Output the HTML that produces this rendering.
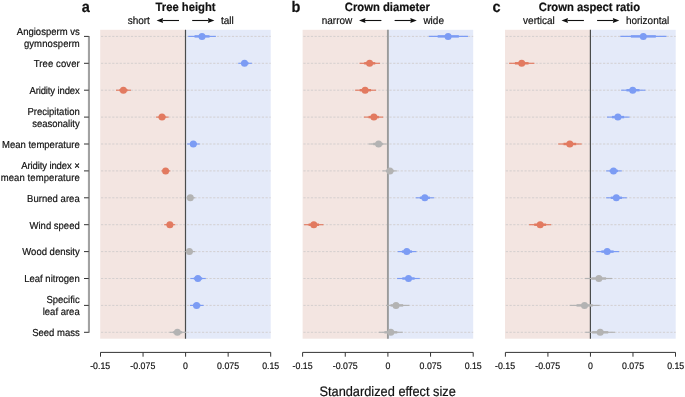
<!DOCTYPE html><html><head><meta charset="utf-8"><style>html,body{margin:0;padding:0;background:#fff;}svg{display:block;will-change:transform;}text{font-family:"Liberation Sans",sans-serif;text-rendering:geometricPrecision;}</style></head><body>
<svg width="685" height="397" viewBox="0 0 685 397">
<rect x="0" y="0" width="685" height="397" fill="#fff"/>
<rect x="100.2" y="29.8" width="85.30" height="308.90" fill="#f3e5e1"/>
<rect x="185.5" y="29.8" width="85.20" height="308.90" fill="#e4eaf9"/>
<line x1="101.0" y1="36.40" x2="270.7" y2="36.40" stroke="#cfcbcb" stroke-width="0.85" stroke-dasharray="2.2 1.54"/>
<line x1="101.0" y1="63.30" x2="270.7" y2="63.30" stroke="#cfcbcb" stroke-width="0.85" stroke-dasharray="2.2 1.54"/>
<line x1="101.0" y1="90.20" x2="270.7" y2="90.20" stroke="#cfcbcb" stroke-width="0.85" stroke-dasharray="2.2 1.54"/>
<line x1="101.0" y1="117.10" x2="270.7" y2="117.10" stroke="#cfcbcb" stroke-width="0.85" stroke-dasharray="2.2 1.54"/>
<line x1="101.0" y1="144.00" x2="270.7" y2="144.00" stroke="#cfcbcb" stroke-width="0.85" stroke-dasharray="2.2 1.54"/>
<line x1="101.0" y1="170.90" x2="270.7" y2="170.90" stroke="#cfcbcb" stroke-width="0.85" stroke-dasharray="2.2 1.54"/>
<line x1="101.0" y1="197.80" x2="270.7" y2="197.80" stroke="#cfcbcb" stroke-width="0.85" stroke-dasharray="2.2 1.54"/>
<line x1="101.0" y1="224.70" x2="270.7" y2="224.70" stroke="#cfcbcb" stroke-width="0.85" stroke-dasharray="2.2 1.54"/>
<line x1="101.0" y1="251.60" x2="270.7" y2="251.60" stroke="#cfcbcb" stroke-width="0.85" stroke-dasharray="2.2 1.54"/>
<line x1="101.0" y1="278.50" x2="270.7" y2="278.50" stroke="#cfcbcb" stroke-width="0.85" stroke-dasharray="2.2 1.54"/>
<line x1="101.0" y1="305.40" x2="270.7" y2="305.40" stroke="#cfcbcb" stroke-width="0.85" stroke-dasharray="2.2 1.54"/>
<line x1="101.0" y1="332.30" x2="270.7" y2="332.30" stroke="#cfcbcb" stroke-width="0.85" stroke-dasharray="2.2 1.54"/>
<line x1="185.5" y1="29.8" x2="185.5" y2="338.7" stroke="#4a4c4c" stroke-width="1.2"/>
<line x1="188.2" y1="36.40" x2="215.9" y2="36.40" stroke="#7c9cf4" stroke-width="1.15"/>
<line x1="194.55" y1="36.40" x2="209.51" y2="36.40" stroke="#7c9cf4" stroke-width="2.45"/>
<circle cx="202.0" cy="36.40" r="3.5" fill="#7c9cf4"/>
<line x1="238.2" y1="63.30" x2="251.9" y2="63.30" stroke="#7c9cf4" stroke-width="1.15"/>
<line x1="241.10" y1="63.30" x2="248.50" y2="63.30" stroke="#7c9cf4" stroke-width="2.45"/>
<circle cx="244.5" cy="63.30" r="3.5" fill="#7c9cf4"/>
<line x1="116.0" y1="90.20" x2="131.0" y2="90.20" stroke="#e27a60" stroke-width="1.15"/>
<line x1="119.40" y1="90.20" x2="127.50" y2="90.20" stroke="#e27a60" stroke-width="2.45"/>
<circle cx="123.4" cy="90.20" r="3.5" fill="#e27a60"/>
<line x1="156.0" y1="117.10" x2="168.6" y2="117.10" stroke="#e27a60" stroke-width="1.15"/>
<line x1="158.76" y1="117.10" x2="165.56" y2="117.10" stroke="#e27a60" stroke-width="2.45"/>
<circle cx="162.0" cy="117.10" r="3.5" fill="#e27a60"/>
<line x1="187.2" y1="144.00" x2="199.7" y2="144.00" stroke="#7c9cf4" stroke-width="1.15"/>
<line x1="190.01" y1="144.00" x2="196.76" y2="144.00" stroke="#7c9cf4" stroke-width="2.45"/>
<circle cx="193.3" cy="144.00" r="3.5" fill="#7c9cf4"/>
<line x1="161.5" y1="170.90" x2="170.3" y2="170.90" stroke="#e27a60" stroke-width="1.15"/>
<line x1="163.39" y1="170.90" x2="168.14" y2="170.90" stroke="#e27a60" stroke-width="2.45"/>
<circle cx="165.6" cy="170.90" r="3.5" fill="#e27a60"/>
<line x1="186.4" y1="197.80" x2="195.2" y2="197.80" stroke="#b3b3b3" stroke-width="1.15"/>
<line x1="188.19" y1="197.80" x2="192.95" y2="197.80" stroke="#b3b3b3" stroke-width="2.45"/>
<circle cx="190.3" cy="197.80" r="3.5" fill="#b3b3b3"/>
<line x1="164.2" y1="224.70" x2="175.3" y2="224.70" stroke="#e27a60" stroke-width="1.15"/>
<line x1="166.82" y1="224.70" x2="172.82" y2="224.70" stroke="#e27a60" stroke-width="2.45"/>
<circle cx="169.9" cy="224.70" r="3.5" fill="#e27a60"/>
<line x1="185.3" y1="251.60" x2="195.0" y2="251.60" stroke="#b3b3b3" stroke-width="1.15"/>
<line x1="187.19" y1="251.60" x2="192.42" y2="251.60" stroke="#b3b3b3" stroke-width="2.45"/>
<circle cx="189.4" cy="251.60" r="3.5" fill="#b3b3b3"/>
<line x1="190.3" y1="278.50" x2="205.8" y2="278.50" stroke="#7c9cf4" stroke-width="1.15"/>
<line x1="193.80" y1="278.50" x2="202.17" y2="278.50" stroke="#7c9cf4" stroke-width="2.45"/>
<circle cx="197.9" cy="278.50" r="3.5" fill="#7c9cf4"/>
<line x1="190.0" y1="305.40" x2="203.6" y2="305.40" stroke="#7c9cf4" stroke-width="1.15"/>
<line x1="193.04" y1="305.40" x2="200.38" y2="305.40" stroke="#7c9cf4" stroke-width="2.45"/>
<circle cx="196.6" cy="305.40" r="3.5" fill="#7c9cf4"/>
<line x1="169.6" y1="332.30" x2="186.3" y2="332.30" stroke="#b3b3b3" stroke-width="1.15"/>
<line x1="173.19" y1="332.30" x2="182.21" y2="332.30" stroke="#b3b3b3" stroke-width="2.45"/>
<circle cx="177.4" cy="332.30" r="3.5" fill="#b3b3b3"/>
<path d="M100.5 356.7V352.4H270.7V356.7" fill="none" stroke="#333" stroke-width="1"/>
<line x1="143.05" y1="352.4" x2="143.05" y2="356.7" stroke="#333" stroke-width="1"/>
<line x1="185.60" y1="352.4" x2="185.60" y2="356.7" stroke="#333" stroke-width="1"/>
<line x1="228.15" y1="352.4" x2="228.15" y2="356.7" stroke="#333" stroke-width="1"/>
<text transform="translate(100.20,368.80) scale(1,1.07)" font-size="8.8" text-anchor="middle" fill="#111" stroke="#111" stroke-width="0.18">-0.15</text>
<text transform="translate(142.82,368.80) scale(1,1.07)" font-size="8.8" text-anchor="middle" fill="#111" stroke="#111" stroke-width="0.18">-0.075</text>
<text transform="translate(185.45,368.80) scale(1,1.07)" font-size="8.8" text-anchor="middle" fill="#111" stroke="#111" stroke-width="0.18">0</text>
<text transform="translate(228.07,368.80) scale(1,1.07)" font-size="8.8" text-anchor="middle" fill="#111" stroke="#111" stroke-width="0.18">0.075</text>
<text transform="translate(270.70,368.80) scale(1,1.07)" font-size="8.8" text-anchor="middle" fill="#111" stroke="#111" stroke-width="0.18">0.15</text>
<text transform="translate(81.70,11.60) scale(1,1.07)" font-size="14.5" font-weight="bold" fill="#111" stroke="#111" stroke-width="0.18">a</text>
<text transform="translate(185.50,10.90) scale(1,1.07)" font-size="11.25" text-anchor="middle" font-weight="bold" fill="#111" stroke="#111" stroke-width="0.18">Tree height</text>
<text transform="translate(149.90,23.80) scale(1,1.07)" font-size="10" text-anchor="end" fill="#111" stroke="#111" stroke-width="0.18">short</text>
<text transform="translate(221.00,23.80) scale(1,1.07)" font-size="10" fill="#111" stroke="#111" stroke-width="0.18">tall</text>
<line x1="179.00" y1="20.5" x2="162.50" y2="20.5" stroke="#111" stroke-width="1.1"/>
<path d="M156.60 20.5L163.10 18.1L162.50 20.5L163.10 22.9Z" fill="#111"/>
<line x1="192.20" y1="20.5" x2="208.50" y2="20.5" stroke="#111" stroke-width="1.1"/>
<path d="M214.40 20.5L207.90 18.1L208.50 20.5L207.90 22.9Z" fill="#111"/>
<rect x="302.6" y="29.8" width="85.30" height="308.90" fill="#f3e5e1"/>
<rect x="387.9" y="29.8" width="85.30" height="308.90" fill="#e4eaf9"/>
<line x1="303.40000000000003" y1="36.40" x2="473.2" y2="36.40" stroke="#cfcbcb" stroke-width="0.85" stroke-dasharray="2.2 1.54"/>
<line x1="303.40000000000003" y1="63.30" x2="473.2" y2="63.30" stroke="#cfcbcb" stroke-width="0.85" stroke-dasharray="2.2 1.54"/>
<line x1="303.40000000000003" y1="90.20" x2="473.2" y2="90.20" stroke="#cfcbcb" stroke-width="0.85" stroke-dasharray="2.2 1.54"/>
<line x1="303.40000000000003" y1="117.10" x2="473.2" y2="117.10" stroke="#cfcbcb" stroke-width="0.85" stroke-dasharray="2.2 1.54"/>
<line x1="303.40000000000003" y1="144.00" x2="473.2" y2="144.00" stroke="#cfcbcb" stroke-width="0.85" stroke-dasharray="2.2 1.54"/>
<line x1="303.40000000000003" y1="170.90" x2="473.2" y2="170.90" stroke="#cfcbcb" stroke-width="0.85" stroke-dasharray="2.2 1.54"/>
<line x1="303.40000000000003" y1="197.80" x2="473.2" y2="197.80" stroke="#cfcbcb" stroke-width="0.85" stroke-dasharray="2.2 1.54"/>
<line x1="303.40000000000003" y1="224.70" x2="473.2" y2="224.70" stroke="#cfcbcb" stroke-width="0.85" stroke-dasharray="2.2 1.54"/>
<line x1="303.40000000000003" y1="251.60" x2="473.2" y2="251.60" stroke="#cfcbcb" stroke-width="0.85" stroke-dasharray="2.2 1.54"/>
<line x1="303.40000000000003" y1="278.50" x2="473.2" y2="278.50" stroke="#cfcbcb" stroke-width="0.85" stroke-dasharray="2.2 1.54"/>
<line x1="303.40000000000003" y1="305.40" x2="473.2" y2="305.40" stroke="#cfcbcb" stroke-width="0.85" stroke-dasharray="2.2 1.54"/>
<line x1="303.40000000000003" y1="332.30" x2="473.2" y2="332.30" stroke="#cfcbcb" stroke-width="0.85" stroke-dasharray="2.2 1.54"/>
<line x1="387.9" y1="29.8" x2="387.9" y2="338.7" stroke="#9a9a9a" stroke-width="1.9"/>
<line x1="428.8" y1="36.40" x2="468.0" y2="36.40" stroke="#7c9cf4" stroke-width="1.15"/>
<line x1="437.68" y1="36.40" x2="458.85" y2="36.40" stroke="#7c9cf4" stroke-width="2.45"/>
<circle cx="448.1" cy="36.40" r="3.5" fill="#7c9cf4"/>
<line x1="359.6" y1="63.30" x2="380.0" y2="63.30" stroke="#e27a60" stroke-width="1.15"/>
<line x1="364.20" y1="63.30" x2="375.22" y2="63.30" stroke="#e27a60" stroke-width="2.45"/>
<circle cx="369.6" cy="63.30" r="3.5" fill="#e27a60"/>
<line x1="355.1" y1="90.20" x2="376.0" y2="90.20" stroke="#e27a60" stroke-width="1.15"/>
<line x1="359.70" y1="90.20" x2="370.99" y2="90.20" stroke="#e27a60" stroke-width="2.45"/>
<circle cx="365.1" cy="90.20" r="3.5" fill="#e27a60"/>
<line x1="364.0" y1="117.10" x2="383.1" y2="117.10" stroke="#e27a60" stroke-width="1.15"/>
<line x1="368.55" y1="117.10" x2="378.87" y2="117.10" stroke="#e27a60" stroke-width="2.45"/>
<circle cx="373.9" cy="117.10" r="3.5" fill="#e27a60"/>
<line x1="368.6" y1="144.00" x2="386.6" y2="144.00" stroke="#b3b3b3" stroke-width="1.15"/>
<line x1="373.20" y1="144.00" x2="382.92" y2="144.00" stroke="#b3b3b3" stroke-width="2.45"/>
<circle cx="378.6" cy="144.00" r="3.5" fill="#b3b3b3"/>
<line x1="382.5" y1="170.90" x2="396.9" y2="170.90" stroke="#b3b3b3" stroke-width="1.15"/>
<line x1="385.90" y1="170.90" x2="393.68" y2="170.90" stroke="#b3b3b3" stroke-width="2.45"/>
<circle cx="389.9" cy="170.90" r="3.5" fill="#b3b3b3"/>
<line x1="415.7" y1="197.80" x2="434.2" y2="197.80" stroke="#7c9cf4" stroke-width="1.15"/>
<line x1="419.89" y1="197.80" x2="429.88" y2="197.80" stroke="#7c9cf4" stroke-width="2.45"/>
<circle cx="424.8" cy="197.80" r="3.5" fill="#7c9cf4"/>
<line x1="304.1" y1="224.70" x2="323.5" y2="224.70" stroke="#e27a60" stroke-width="1.15"/>
<line x1="308.56" y1="224.70" x2="319.04" y2="224.70" stroke="#e27a60" stroke-width="2.45"/>
<circle cx="313.8" cy="224.70" r="3.5" fill="#e27a60"/>
<line x1="397.7" y1="251.60" x2="416.5" y2="251.60" stroke="#7c9cf4" stroke-width="1.15"/>
<line x1="401.89" y1="251.60" x2="412.04" y2="251.60" stroke="#7c9cf4" stroke-width="2.45"/>
<circle cx="406.8" cy="251.60" r="3.5" fill="#7c9cf4"/>
<line x1="397.1" y1="278.50" x2="419.8" y2="278.50" stroke="#7c9cf4" stroke-width="1.15"/>
<line x1="402.34" y1="278.50" x2="414.60" y2="278.50" stroke="#7c9cf4" stroke-width="2.45"/>
<circle cx="408.5" cy="278.50" r="3.5" fill="#7c9cf4"/>
<line x1="386.0" y1="305.40" x2="409.3" y2="305.40" stroke="#b3b3b3" stroke-width="1.15"/>
<line x1="390.60" y1="305.40" x2="403.18" y2="305.40" stroke="#b3b3b3" stroke-width="2.45"/>
<circle cx="396.0" cy="305.40" r="3.5" fill="#b3b3b3"/>
<line x1="378.9" y1="332.30" x2="402.7" y2="332.30" stroke="#b3b3b3" stroke-width="1.15"/>
<line x1="384.37" y1="332.30" x2="397.23" y2="332.30" stroke="#b3b3b3" stroke-width="2.45"/>
<circle cx="390.8" cy="332.30" r="3.5" fill="#b3b3b3"/>
<path d="M302.6 356.7V352.4H473.2V356.7" fill="none" stroke="#333" stroke-width="1"/>
<line x1="345.25" y1="352.4" x2="345.25" y2="356.7" stroke="#333" stroke-width="1"/>
<line x1="387.90" y1="352.4" x2="387.90" y2="356.7" stroke="#333" stroke-width="1"/>
<line x1="430.55" y1="352.4" x2="430.55" y2="356.7" stroke="#333" stroke-width="1"/>
<text transform="translate(302.60,368.80) scale(1,1.07)" font-size="8.8" text-anchor="middle" fill="#111" stroke="#111" stroke-width="0.18">-0.15</text>
<text transform="translate(345.25,368.80) scale(1,1.07)" font-size="8.8" text-anchor="middle" fill="#111" stroke="#111" stroke-width="0.18">-0.075</text>
<text transform="translate(387.90,368.80) scale(1,1.07)" font-size="8.8" text-anchor="middle" fill="#111" stroke="#111" stroke-width="0.18">0</text>
<text transform="translate(430.55,368.80) scale(1,1.07)" font-size="8.8" text-anchor="middle" fill="#111" stroke="#111" stroke-width="0.18">0.075</text>
<text transform="translate(473.20,368.80) scale(1,1.07)" font-size="8.8" text-anchor="middle" fill="#111" stroke="#111" stroke-width="0.18">0.15</text>
<text transform="translate(291.40,11.60) scale(1,1.07)" font-size="14.5" font-weight="bold" fill="#111" stroke="#111" stroke-width="0.18">b</text>
<text transform="translate(387.30,10.90) scale(1,1.07)" font-size="11.25" text-anchor="middle" font-weight="bold" fill="#111" stroke="#111" stroke-width="0.18">Crown diameter</text>
<text transform="translate(352.30,23.80) scale(1,1.07)" font-size="10" text-anchor="end" fill="#111" stroke="#111" stroke-width="0.18">narrow</text>
<text transform="translate(423.40,23.80) scale(1,1.07)" font-size="10" fill="#111" stroke="#111" stroke-width="0.18">wide</text>
<line x1="381.40" y1="20.5" x2="364.90" y2="20.5" stroke="#111" stroke-width="1.1"/>
<path d="M359.00 20.5L365.50 18.1L364.90 20.5L365.50 22.9Z" fill="#111"/>
<line x1="394.60" y1="20.5" x2="410.90" y2="20.5" stroke="#111" stroke-width="1.1"/>
<path d="M416.80 20.5L410.30 18.1L410.90 20.5L410.30 22.9Z" fill="#111"/>
<rect x="505.0" y="29.8" width="85.40" height="308.90" fill="#f3e5e1"/>
<rect x="590.4" y="29.8" width="85.30" height="308.90" fill="#e4eaf9"/>
<line x1="505.8" y1="36.40" x2="675.7" y2="36.40" stroke="#cfcbcb" stroke-width="0.85" stroke-dasharray="2.2 1.54"/>
<line x1="505.8" y1="63.30" x2="675.7" y2="63.30" stroke="#cfcbcb" stroke-width="0.85" stroke-dasharray="2.2 1.54"/>
<line x1="505.8" y1="90.20" x2="675.7" y2="90.20" stroke="#cfcbcb" stroke-width="0.85" stroke-dasharray="2.2 1.54"/>
<line x1="505.8" y1="117.10" x2="675.7" y2="117.10" stroke="#cfcbcb" stroke-width="0.85" stroke-dasharray="2.2 1.54"/>
<line x1="505.8" y1="144.00" x2="675.7" y2="144.00" stroke="#cfcbcb" stroke-width="0.85" stroke-dasharray="2.2 1.54"/>
<line x1="505.8" y1="170.90" x2="675.7" y2="170.90" stroke="#cfcbcb" stroke-width="0.85" stroke-dasharray="2.2 1.54"/>
<line x1="505.8" y1="197.80" x2="675.7" y2="197.80" stroke="#cfcbcb" stroke-width="0.85" stroke-dasharray="2.2 1.54"/>
<line x1="505.8" y1="224.70" x2="675.7" y2="224.70" stroke="#cfcbcb" stroke-width="0.85" stroke-dasharray="2.2 1.54"/>
<line x1="505.8" y1="251.60" x2="675.7" y2="251.60" stroke="#cfcbcb" stroke-width="0.85" stroke-dasharray="2.2 1.54"/>
<line x1="505.8" y1="278.50" x2="675.7" y2="278.50" stroke="#cfcbcb" stroke-width="0.85" stroke-dasharray="2.2 1.54"/>
<line x1="505.8" y1="305.40" x2="675.7" y2="305.40" stroke="#cfcbcb" stroke-width="0.85" stroke-dasharray="2.2 1.54"/>
<line x1="505.8" y1="332.30" x2="675.7" y2="332.30" stroke="#cfcbcb" stroke-width="0.85" stroke-dasharray="2.2 1.54"/>
<line x1="590.4" y1="29.8" x2="590.4" y2="338.7" stroke="#4a4c4c" stroke-width="1.2"/>
<line x1="620.3" y1="36.40" x2="666.5" y2="36.40" stroke="#7c9cf4" stroke-width="1.15"/>
<line x1="630.88" y1="36.40" x2="655.83" y2="36.40" stroke="#7c9cf4" stroke-width="2.45"/>
<circle cx="643.3" cy="36.40" r="3.5" fill="#7c9cf4"/>
<line x1="509.1" y1="63.30" x2="534.4" y2="63.30" stroke="#e27a60" stroke-width="1.15"/>
<line x1="514.90" y1="63.30" x2="528.56" y2="63.30" stroke="#e27a60" stroke-width="2.45"/>
<circle cx="521.7" cy="63.30" r="3.5" fill="#e27a60"/>
<line x1="621.1" y1="90.20" x2="645.4" y2="90.20" stroke="#7c9cf4" stroke-width="1.15"/>
<line x1="626.44" y1="90.20" x2="639.56" y2="90.20" stroke="#7c9cf4" stroke-width="2.45"/>
<circle cx="632.7" cy="90.20" r="3.5" fill="#7c9cf4"/>
<line x1="607.0" y1="117.10" x2="629.5" y2="117.10" stroke="#7c9cf4" stroke-width="1.15"/>
<line x1="612.01" y1="117.10" x2="624.16" y2="117.10" stroke="#7c9cf4" stroke-width="2.45"/>
<circle cx="617.9" cy="117.10" r="3.5" fill="#7c9cf4"/>
<line x1="558.2" y1="144.00" x2="581.7" y2="144.00" stroke="#e27a60" stroke-width="1.15"/>
<line x1="563.54" y1="144.00" x2="576.23" y2="144.00" stroke="#e27a60" stroke-width="2.45"/>
<circle cx="569.8" cy="144.00" r="3.5" fill="#e27a60"/>
<line x1="606.1" y1="170.90" x2="621.8" y2="170.90" stroke="#7c9cf4" stroke-width="1.15"/>
<line x1="609.50" y1="170.90" x2="617.98" y2="170.90" stroke="#7c9cf4" stroke-width="2.45"/>
<circle cx="613.5" cy="170.90" r="3.5" fill="#7c9cf4"/>
<line x1="606.1" y1="197.80" x2="626.8" y2="197.80" stroke="#7c9cf4" stroke-width="1.15"/>
<line x1="610.79" y1="197.80" x2="621.97" y2="197.80" stroke="#7c9cf4" stroke-width="2.45"/>
<circle cx="616.3" cy="197.80" r="3.5" fill="#7c9cf4"/>
<line x1="529.1" y1="224.70" x2="551.2" y2="224.70" stroke="#e27a60" stroke-width="1.15"/>
<line x1="534.21" y1="224.70" x2="546.14" y2="224.70" stroke="#e27a60" stroke-width="2.45"/>
<circle cx="540.2" cy="224.70" r="3.5" fill="#e27a60"/>
<line x1="596.4" y1="251.60" x2="619.1" y2="251.60" stroke="#7c9cf4" stroke-width="1.15"/>
<line x1="601.37" y1="251.60" x2="613.63" y2="251.60" stroke="#7c9cf4" stroke-width="2.45"/>
<circle cx="607.2" cy="251.60" r="3.5" fill="#7c9cf4"/>
<line x1="585.0" y1="278.50" x2="612.2" y2="278.50" stroke="#b3b3b3" stroke-width="1.15"/>
<line x1="591.39" y1="278.50" x2="606.08" y2="278.50" stroke="#b3b3b3" stroke-width="2.45"/>
<circle cx="598.9" cy="278.50" r="3.5" fill="#b3b3b3"/>
<line x1="569.8" y1="305.40" x2="599.7" y2="305.40" stroke="#b3b3b3" stroke-width="1.15"/>
<line x1="576.56" y1="305.40" x2="592.71" y2="305.40" stroke="#b3b3b3" stroke-width="2.45"/>
<circle cx="584.5" cy="305.40" r="3.5" fill="#b3b3b3"/>
<line x1="585.3" y1="332.30" x2="614.9" y2="332.30" stroke="#b3b3b3" stroke-width="1.15"/>
<line x1="592.15" y1="332.30" x2="608.14" y2="332.30" stroke="#b3b3b3" stroke-width="2.45"/>
<circle cx="600.2" cy="332.30" r="3.5" fill="#b3b3b3"/>
<path d="M505.4 356.7V352.4H675.5V356.7" fill="none" stroke="#333" stroke-width="1"/>
<line x1="547.92" y1="352.4" x2="547.92" y2="356.7" stroke="#333" stroke-width="1"/>
<line x1="590.45" y1="352.4" x2="590.45" y2="356.7" stroke="#333" stroke-width="1"/>
<line x1="632.98" y1="352.4" x2="632.98" y2="356.7" stroke="#333" stroke-width="1"/>
<text transform="translate(505.00,368.80) scale(1,1.07)" font-size="8.8" text-anchor="middle" fill="#111" stroke="#111" stroke-width="0.18">-0.15</text>
<text transform="translate(547.67,368.80) scale(1,1.07)" font-size="8.8" text-anchor="middle" fill="#111" stroke="#111" stroke-width="0.18">-0.075</text>
<text transform="translate(590.35,368.80) scale(1,1.07)" font-size="8.8" text-anchor="middle" fill="#111" stroke="#111" stroke-width="0.18">0</text>
<text transform="translate(633.03,368.80) scale(1,1.07)" font-size="8.8" text-anchor="middle" fill="#111" stroke="#111" stroke-width="0.18">0.075</text>
<text transform="translate(675.70,368.80) scale(1,1.07)" font-size="8.8" text-anchor="middle" fill="#111" stroke="#111" stroke-width="0.18">0.15</text>
<text transform="translate(492.60,11.60) scale(1,1.07)" font-size="14.5" font-weight="bold" fill="#111" stroke="#111" stroke-width="0.18">c</text>
<text transform="translate(589.40,10.90) scale(1,1.07)" font-size="11.25" text-anchor="middle" font-weight="bold" fill="#111" stroke="#111" stroke-width="0.18">Crown aspect ratio</text>
<text transform="translate(554.80,23.80) scale(1,1.07)" font-size="10" text-anchor="end" fill="#111" stroke="#111" stroke-width="0.18">vertical</text>
<text transform="translate(625.90,23.80) scale(1,1.07)" font-size="10" fill="#111" stroke="#111" stroke-width="0.18">horizontal</text>
<line x1="583.90" y1="20.5" x2="567.40" y2="20.5" stroke="#111" stroke-width="1.1"/>
<path d="M561.50 20.5L568.00 18.1L567.40 20.5L568.00 22.9Z" fill="#111"/>
<line x1="597.10" y1="20.5" x2="613.40" y2="20.5" stroke="#111" stroke-width="1.1"/>
<path d="M619.30 20.5L612.80 18.1L613.40 20.5L612.80 22.9Z" fill="#111"/>
<line x1="88.95" y1="35.90" x2="88.95" y2="332.80" stroke="#a2a2a2" stroke-width="2.1"/>
<line x1="84.0" y1="36.40" x2="88.75" y2="36.40" stroke="#333" stroke-width="1"/>
<line x1="84.0" y1="63.30" x2="88.75" y2="63.30" stroke="#333" stroke-width="1"/>
<line x1="84.0" y1="90.20" x2="88.75" y2="90.20" stroke="#333" stroke-width="1"/>
<line x1="84.0" y1="117.10" x2="88.75" y2="117.10" stroke="#333" stroke-width="1"/>
<line x1="84.0" y1="144.00" x2="88.75" y2="144.00" stroke="#333" stroke-width="1"/>
<line x1="84.0" y1="170.90" x2="88.75" y2="170.90" stroke="#333" stroke-width="1"/>
<line x1="84.0" y1="197.80" x2="88.75" y2="197.80" stroke="#333" stroke-width="1"/>
<line x1="84.0" y1="224.70" x2="88.75" y2="224.70" stroke="#333" stroke-width="1"/>
<line x1="84.0" y1="251.60" x2="88.75" y2="251.60" stroke="#333" stroke-width="1"/>
<line x1="84.0" y1="278.50" x2="88.75" y2="278.50" stroke="#333" stroke-width="1"/>
<line x1="84.0" y1="305.40" x2="88.75" y2="305.40" stroke="#333" stroke-width="1"/>
<line x1="84.0" y1="332.30" x2="88.75" y2="332.30" stroke="#333" stroke-width="1"/>
<text transform="translate(79.70,34.70) scale(1,1.07)" font-size="9.5" text-anchor="end" fill="#111" stroke="#111" stroke-width="0.18">Angiosperm vs</text>
<text transform="translate(79.70,46.90) scale(1,1.07)" font-size="9.5" text-anchor="end" textLength="55.82" lengthAdjust="spacing" fill="#111" stroke="#111" stroke-width="0.18">gymnosperm</text>
<text transform="translate(79.70,67.10) scale(1,1.07)" font-size="9.5" text-anchor="end" textLength="46.06" lengthAdjust="spacing" fill="#111" stroke="#111" stroke-width="0.18">Tree cover</text>
<text transform="translate(79.70,94.00) scale(1,1.07)" font-size="9.5" text-anchor="end" textLength="50.25" lengthAdjust="spacing" fill="#111" stroke="#111" stroke-width="0.18">Aridity index</text>
<text transform="translate(79.70,114.80) scale(1,1.07)" font-size="9.5" text-anchor="end" fill="#111" stroke="#111" stroke-width="0.18">Precipitation</text>
<text transform="translate(79.70,127.00) scale(1,1.07)" font-size="9.5" text-anchor="end" fill="#111" stroke="#111" stroke-width="0.18">seasonality</text>
<text transform="translate(79.70,147.80) scale(1,1.07)" font-size="9.5" text-anchor="end" fill="#111" stroke="#111" stroke-width="0.18">Mean temperature</text>
<text transform="translate(79.70,168.60) scale(1,1.07)" font-size="9.5" text-anchor="end" textLength="58.54" lengthAdjust="spacing" fill="#111" stroke="#111" stroke-width="0.18">Aridity index ×</text>
<text transform="translate(79.70,180.80) scale(1,1.07)" font-size="9.5" text-anchor="end" textLength="79.02" lengthAdjust="spacing" fill="#111" stroke="#111" stroke-width="0.18">mean temperature</text>
<text transform="translate(79.70,201.60) scale(1,1.07)" font-size="9.5" text-anchor="end" textLength="52.70" lengthAdjust="spacing" fill="#111" stroke="#111" stroke-width="0.18">Burned area</text>
<text transform="translate(79.70,228.50) scale(1,1.07)" font-size="9.5" text-anchor="end" fill="#111" stroke="#111" stroke-width="0.18">Wind speed</text>
<text transform="translate(79.70,255.40) scale(1,1.07)" font-size="9.5" text-anchor="end" fill="#111" stroke="#111" stroke-width="0.18">Wood density</text>
<text transform="translate(79.70,282.30) scale(1,1.07)" font-size="9.5" text-anchor="end" fill="#111" stroke="#111" stroke-width="0.18">Leaf nitrogen</text>
<text transform="translate(79.70,303.10) scale(1,1.07)" font-size="9.5" text-anchor="end" fill="#111" stroke="#111" stroke-width="0.18">Specific</text>
<text transform="translate(79.70,315.30) scale(1,1.07)" font-size="9.5" text-anchor="end" fill="#111" stroke="#111" stroke-width="0.18">leaf area</text>
<text transform="translate(79.70,336.10) scale(1,1.07)" font-size="9.5" text-anchor="end" fill="#111" stroke="#111" stroke-width="0.18">Seed mass</text>
<text transform="translate(387.60,396.30) scale(1,1.07)" font-size="12.8" text-anchor="middle" fill="#111" stroke="#111" stroke-width="0.18">Standardized effect size</text>
</svg></body></html>
